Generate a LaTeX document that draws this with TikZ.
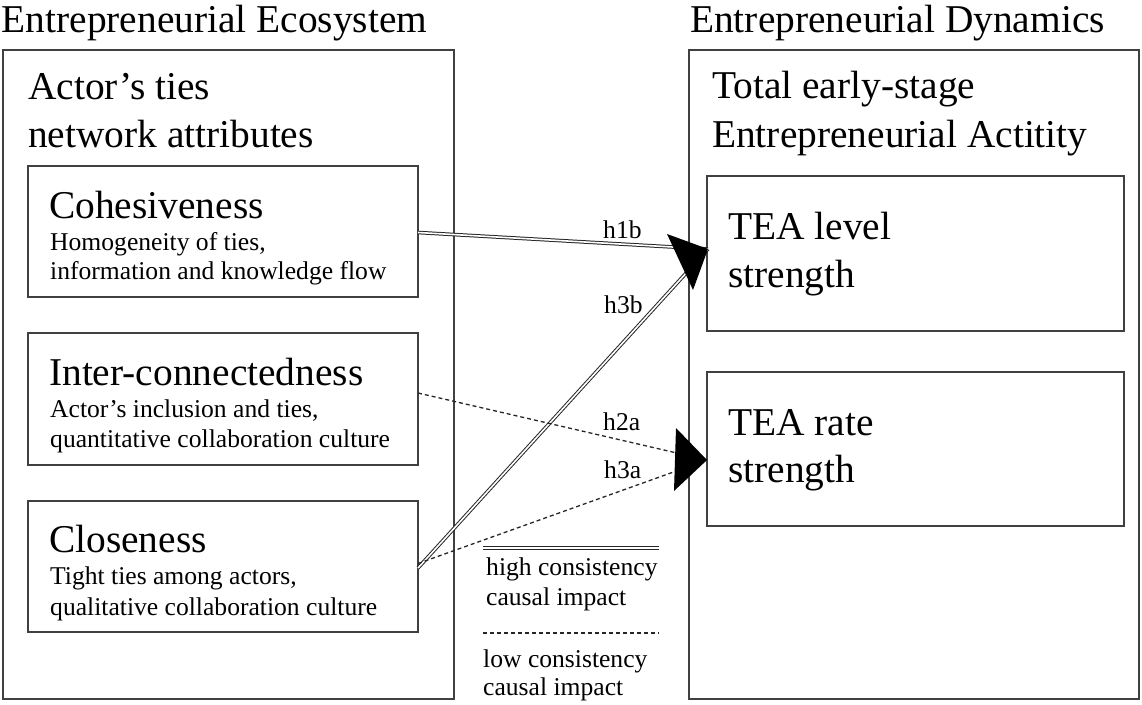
\documentclass[tikz,border=0pt]{standalone}
\usepackage{fontspec}
\setmainfont{Liberation Serif}
\begin{document}
\begin{tikzpicture}[x=1pt,y=-1pt,
  frame/.style={draw=black!75, line width=1.3pt, inner sep=0pt, outer sep=0pt, anchor=north west},
  big/.style={font=\fontsize{39.4}{48}\selectfont, inner sep=0pt, anchor=base west},
  small/.style={font=\fontsize{25.6}{30}\selectfont, inner sep=0pt, anchor=base west},
  strong/.style={double, double distance=1.6pt, line width=1pt, draw=black!85},
  strongkey/.style={double, double distance=2.2pt, line width=1.2pt, draw=black!85},
  weak/.style={dash pattern=on 4pt off 3pt, line width=1.3pt, draw=black!85},
  head/.style={fill=black}]
\useasboundingbox (0,0) rectangle (1142,704);

% titles
\node[big] (tEco) at (1.5,32) {Entrepreneurial Ecosystem};
\node[big] (tDyn) at (690,32) {Entrepreneurial Dynamics};

% outer frames
\node[frame, minimum width=451pt, minimum height=649pt] (eco) at (3,50) {};
\node[frame, minimum width=450pt, minimum height=649pt] (dyn) at (689,50) {};

\node[big] (a1) at (28,99) {Actor’s ties};
\node[big] (a2) at (28,147) {network attributes};
\node[big] (d1) at (712,98) {Total early-stage};
\node[big] (d2) at (712,147) {Entrepreneurial Actitity};

% left boxes
\node[frame, minimum width=390pt, minimum height=131pt] (coh) at (28,166) {};
\node[big] (cohT) at (49,218) {Cohesiveness};
\node[small] (cohA) at (50,250) {Homogeneity of ties,};
\node[small] (cohB) at (50,279) {information and knowledge flow};

\node[frame, minimum width=390pt, minimum height=132pt] (inter) at (28,333) {};
\node[big] (intT) at (49,385) {Inter-connectedness};
\node[small] (intA) at (50,417) {Actor’s inclusion and ties,};
\node[small] (intB) at (50,447) {quantitative collaboration culture};

\node[frame, minimum width=390pt, minimum height=131pt] (clo) at (28,501) {};
\node[big] (cloT) at (49,552) {Closeness};
\node[small] (cloA) at (50,584) {Tight ties among actors,};
\node[small] (cloB) at (50,615) {qualitative collaboration culture};

% right boxes
\node[frame, minimum width=417pt, minimum height=155pt] (lev) at (707,176) {};
\node[big] (levA) at (728,239) {TEA level};
\node[big] (levB) at (728,287) {strength};

\node[frame, minimum width=417pt, minimum height=154pt] (rate) at (707,372) {};
\node[big] (rateA) at (728,435) {TEA rate};
\node[big] (rateB) at (728,482) {strength};

% connectors
\coordinate (t1) at (708,249);
\coordinate (t2) at (707,460);
\draw[strong] ([yshift=-1pt]coh.east) -- (t1);
\draw[strong] ([yshift=-1.5pt]clo.east) -- (t1);
\draw[weak] ([yshift=6pt]inter.east) -- (t2);
\draw[weak] ([yshift=3pt]clo.east) -- (t2);
\fill[head] (t1) -- (667,234) -- (693,290) -- cycle;
\fill[head] (t2) -- (676,428) -- (674,491) -- cycle;

\node[small] (h1b) at (603,238) {h1b};
\node[small] (h3b) at (604,313) {h3b};
\node[small] (h2a) at (603,430) {h2a};
\node[small] (h3a) at (604,478) {h3a};

% legend
\coordinate (hs) at (483,548);
\coordinate (he) at (659,548);
\draw[strongkey] (hs) -- (he);
\node[small] (k1) at (486,575) {high consistency};
\node[small] (k2) at (486,605) {causal impact};
\coordinate (ls) at (483,633);
\coordinate (le) at (659,633);
\draw[weak] (ls) -- (le);
\node[small] (k3) at (483,667) {low consistency};
\node[small] (k4) at (483,695) {causal impact};
\end{tikzpicture}
\end{document}
